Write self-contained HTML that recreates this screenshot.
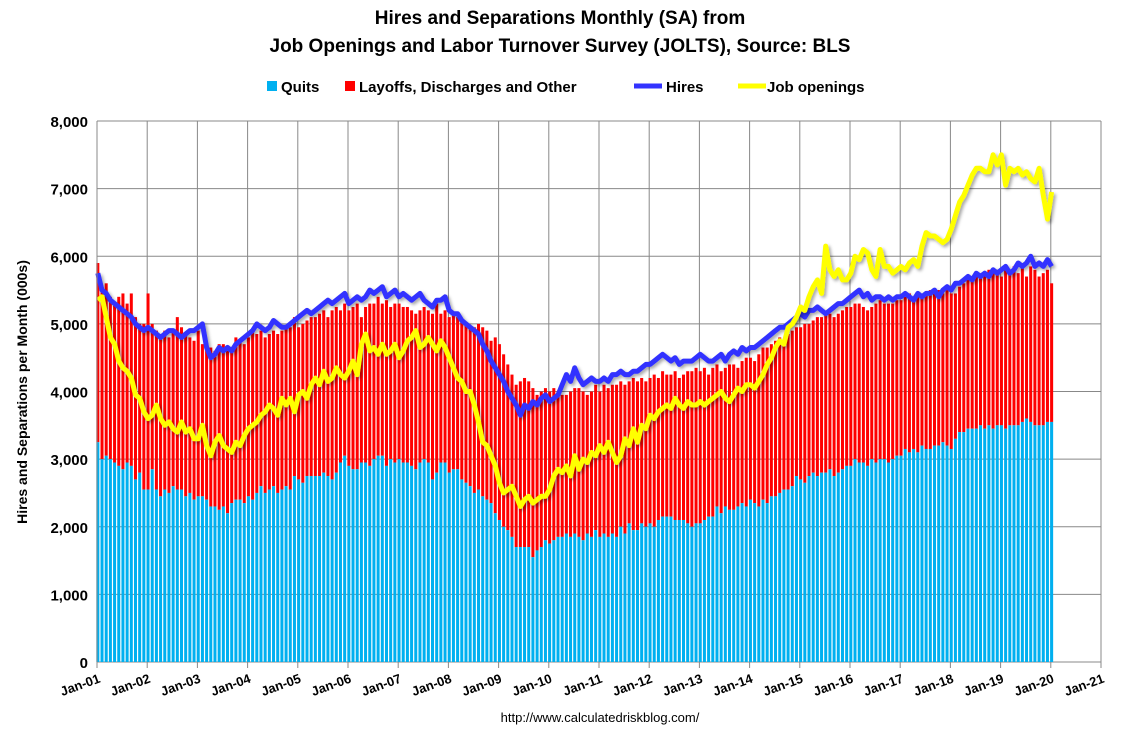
<!DOCTYPE html>
<html><head><meta charset="utf-8"><style>
body{margin:0;background:#fff;font-family:"Liberation Sans",Arial,sans-serif}
svg text{font-family:"Liberation Sans",Arial,sans-serif}
</style></head><body>
<svg id="c" width="1122" height="731" xmlns="http://www.w3.org/2000/svg">
<defs><filter id="sh" x="-5%" y="-5%" width="110%" height="110%"><feDropShadow dx="2" dy="2" stdDeviation="1.5" flood-color="#000" flood-opacity="0.35"/></filter></defs>
<text x="560" y="24" text-anchor="middle" font-size="19" font-weight="bold">Hires and Separations Monthly (SA) from</text>
<text x="560" y="52" text-anchor="middle" font-size="19" font-weight="bold">Job Openings and Labor Turnover Survey (JOLTS), Source: BLS</text>
<g font-size="15" font-weight="bold">
<g><rect x="267" y="81" width="10" height="10" fill="#00b0f0"/><text x="281" y="92">Quits</text></g>
<g><rect x="345" y="81" width="10" height="10" fill="#ff0000"/><text x="359" y="92">Layoffs, Discharges and Other</text></g>
<g><line x1="634" y1="86" x2="662" y2="86" stroke="#3333ff" stroke-width="5"/><text x="666" y="92">Hires</text></g>
<g><line x1="738" y1="86" x2="766" y2="86" stroke="#ffff00" stroke-width="5"/><text x="767" y="92">Job openings</text></g>
</g>
<text transform="translate(27,392) rotate(-90)" text-anchor="middle" font-size="14" font-weight="bold">Hires and Separations per Month (000s)</text>
<text x="600" y="722" text-anchor="middle" font-size="13">http://www.calculatedriskblog.com/</text>
<g id="grid"></g><g id="bars"></g><g id="lines"></g><g id="axes"></g>
</svg>
<script>
const years=["Jan-01","Jan-02","Jan-03","Jan-04","Jan-05","Jan-06","Jan-07","Jan-08","Jan-09","Jan-10","Jan-11","Jan-12","Jan-13","Jan-14","Jan-15","Jan-16","Jan-17","Jan-18","Jan-19","Jan-20","Jan-21"];
const yTicks=[0,1000,2000,3000,4000,5000,6000,7000,8000];
const quits=[3250,3000,3050,3000,2950,2900,2850,2950,2900,2700,2800,2550,
2550,2850,2550,2450,2550,2500,2600,2550,2550,2450,2500,2400,
2450,2450,2400,2300,2300,2250,2300,2200,2350,2400,2400,2350,
2450,2400,2500,2600,2500,2550,2600,2500,2550,2600,2550,2750,
2700,2650,2750,2750,2750,2750,2800,2750,2700,2800,2950,3050,
2900,2850,2850,2950,2950,2900,3000,3050,3050,2900,3000,2950,
3000,2950,2950,2900,2850,2950,3000,2950,2700,2800,2950,2950,
2800,2850,2850,2700,2650,2600,2500,2550,2450,2400,2350,2200,
2100,2000,1950,1850,1700,1700,1700,1700,1550,1650,1700,1800,
1750,1800,1850,1850,1900,1850,1900,1850,1800,1900,1850,1950,
1850,1900,1850,1900,1850,2000,1900,2050,1950,1950,2050,2000,
2050,2000,2100,2150,2150,2150,2100,2100,2100,2050,2000,2050,
2050,2100,2150,2150,2300,2200,2300,2250,2250,2300,2350,2300,
2400,2350,2300,2400,2350,2450,2450,2500,2550,2550,2600,2750,
2700,2650,2750,2800,2750,2800,2800,2850,2750,2800,2850,2900,
2900,3000,2950,2950,2900,3000,2950,3000,3000,2950,3000,3050,
3050,3150,3100,3150,3100,3200,3150,3150,3200,3200,3250,3200,
3150,3300,3400,3400,3450,3450,3450,3500,3450,3500,3450,3500,
3500,3450,3500,3500,3500,3550,3600,3550,3500,3500,3500,3550,
3550];
const separations=[5900,5500,5600,5400,5300,5400,5450,5300,5450,5100,5000,5000,
5450,5000,4900,4850,4900,4800,4900,5100,4950,4850,4800,4750,
4900,4700,4650,4650,4600,4700,4700,4600,4650,4800,4750,4700,
4800,4900,4850,4900,4800,4850,4900,4850,4900,4950,4950,5100,
4950,5000,5050,5100,5100,5150,5200,5100,5200,5250,5200,5300,
5200,5250,5300,5100,5250,5300,5300,5400,5300,5350,5250,5300,
5300,5250,5250,5200,5150,5200,5250,5200,5150,5300,5150,5200,
5100,5150,5100,5050,5000,4950,4950,5000,4950,4900,4750,4800,
4700,4550,4400,4250,4100,4150,4200,4150,4050,3950,4000,4050,
4000,4050,4000,3950,3950,4000,4050,4050,4000,3950,4000,4100,
4000,4100,4050,4100,4100,4150,4100,4150,4200,4150,4200,4150,
4200,4250,4200,4300,4250,4250,4300,4200,4250,4300,4300,4350,
4300,4350,4250,4350,4400,4300,4350,4400,4400,4350,4450,4500,
4500,4450,4550,4650,4650,4700,4750,4800,4750,4850,4900,4950,
4950,5000,5000,5050,5100,5100,5150,5150,5100,5150,5200,5250,
5250,5300,5300,5250,5200,5250,5300,5350,5300,5300,5300,5350,
5350,5400,5450,5400,5450,5400,5450,5500,5450,5500,5450,5500,
5450,5450,5550,5600,5650,5700,5750,5700,5750,5800,5750,5800,
5700,5800,5750,5850,5750,5850,5700,5850,5800,5700,5750,5800,
5600];
const hires=[5750,5500,5450,5350,5300,5250,5200,5150,5100,5000,4950,4900,
4950,4900,4850,4800,4850,4900,4900,4850,4800,4850,4900,4900,
4950,5000,4650,4500,4550,4650,4600,4650,4600,4700,4750,4800,
4850,4900,5000,4950,4900,4950,5050,5000,4950,4950,5000,5050,
5100,5150,5200,5150,5200,5250,5300,5350,5300,5350,5400,5450,
5300,5350,5400,5350,5400,5500,5450,5500,5550,5400,5450,5500,
5400,5450,5400,5350,5400,5450,5350,5300,5250,5350,5350,5400,
5200,5150,5150,5050,5000,4950,4900,4850,4700,4600,4450,4350,
4250,4150,4000,3900,3800,3650,3800,3750,3850,3800,3900,3950,
3850,3900,3950,4100,4250,4150,4350,4200,4100,4150,4200,4150,
4150,4200,4150,4250,4250,4300,4250,4250,4300,4300,4350,4400,
4400,4450,4500,4550,4500,4450,4500,4400,4450,4450,4450,4500,
4550,4500,4450,4450,4500,4550,4450,4550,4600,4550,4650,4600,
4650,4650,4700,4750,4800,4850,4900,4950,4950,5000,5050,5100,
5150,5100,5200,5200,5250,5200,5150,5200,5250,5300,5300,5350,
5400,5450,5500,5400,5450,5350,5400,5400,5350,5400,5350,5400,
5400,5450,5400,5350,5450,5400,5450,5450,5500,5400,5500,5550,
5500,5600,5600,5650,5700,5650,5750,5700,5750,5700,5800,5750,
5800,5850,5750,5800,5900,5850,5900,6000,5850,5900,5850,5950,
5850];
const openings=[5350,5400,5100,4800,4700,4450,4350,4300,4200,3950,3900,3700,
3600,3650,3800,3600,3500,3550,3450,3400,3550,3400,3450,3300,
3300,3500,3200,3050,3250,3350,3200,3150,3100,3250,3200,3350,
3450,3500,3550,3650,3700,3800,3750,3650,3900,3800,3900,3700,
3950,4000,3900,4100,4200,4100,4300,4150,4200,4350,4250,4200,
4300,4450,4250,4700,4850,4600,4650,4550,4700,4550,4600,4700,
4500,4600,4750,4800,4900,4650,4700,4800,4700,4600,4750,4650,
4500,4350,4200,4150,4000,4000,3800,3550,3250,3200,3050,2900,
2650,2500,2550,2600,2450,2300,2400,2450,2350,2400,2450,2450,
2550,2750,2850,2800,2900,2750,3050,2850,3000,2950,3100,3050,
3200,3100,3250,3100,2950,3050,3300,3200,3450,3250,3500,3450,
3650,3600,3700,3750,3800,3750,3900,3800,3750,3850,3800,3800,
3850,3800,3850,3900,3950,4000,3900,3850,3950,4050,4000,4100,
4100,4050,4150,4250,4400,4500,4650,4750,4700,4950,5000,5100,
5250,5200,5400,5550,5650,5450,6150,5800,5700,5800,5650,5650,
5750,6000,5950,6100,6050,5800,5700,6100,5850,5850,5750,5800,
5850,5800,5900,5950,5850,6150,6350,6300,6300,6250,6200,6250,
6400,6600,6800,6900,7050,7200,7300,7300,7250,7250,7500,7350,
7500,7050,7300,7250,7300,7200,7250,7150,7100,7300,6900,6550,
6950];
const NS="http://www.w3.org/2000/svg";
const X0=97,X1=1101,Y0=662,Y1=121;
const xm=i=>X0+(X1-X0)*(i+0.2)/240;
const xy=i=>X0+(X1-X0)*i/20;
const yv=v=>Y0-(Y0-Y1)*v/8000;
function mk(t,a,p){const e=document.createElementNS(NS,t);for(const k in a)e.setAttribute(k,a[k]);p.appendChild(e);return e;}
const grid=document.getElementById('grid'),bars=document.getElementById('bars'),lines=document.getElementById('lines'),axes=document.getElementById('axes');
yTicks.forEach(v=>{
 const l=mk('line',{x1:X0,x2:X1,y1:yv(v),y2:yv(v),stroke:'#888','stroke-width':1},grid);
 
 
 const t=mk('text',{x:X0-9,y:yv(v)+6,'text-anchor':'end','font-size':15,'font-weight':'bold'},axes);
 t.textContent=v.toLocaleString('en-US');
 
 
});
years.forEach((y,i)=>{
 const x=xy(i);
 const l=mk('line',{x1:x,x2:x,y1:Y1,y2:Y0+6,stroke:'#888','stroke-width':1},grid);
 
 
 const t=mk('text',{transform:`translate(${x+4},${Y0+20}) rotate(-20)`,'text-anchor':'end','font-size':13,'font-weight':'bold'},axes);
 t.textContent=y;
 
 
});
const bw=(X1-X0)/240*0.72;
separations.forEach((s,i)=>{
 const x=xm(i)-bw/2;
 const r=mk('rect',{x:x,y:yv(s),width:bw,height:yv(quits[i])-yv(s),fill:'#ff0000'},bars);
 
 
 const q=mk('rect',{x:x,y:yv(quits[i]),width:bw,height:Y0-yv(quits[i]),fill:'#00b0f0'},bars);
 
 
});
function line(arr,col,name){
 const d=arr.map((v,i)=>(i?'L':'M')+xm(i).toFixed(1)+' '+yv(v).toFixed(1)).join(' ');
 const p=mk('path',{d:d,fill:'none',stroke:col,'stroke-width':5,'stroke-linejoin':'round',filter:'url(#sh)'},lines);
 
 
}
line(hires,'#3333ff','hires-line');
line(openings,'#ffff00','job-openings-line');
const ax=mk('line',{x1:X0,x2:X0,y1:Y1,y2:Y0,stroke:'#888','stroke-width':1},axes);


</script>
</body></html>
